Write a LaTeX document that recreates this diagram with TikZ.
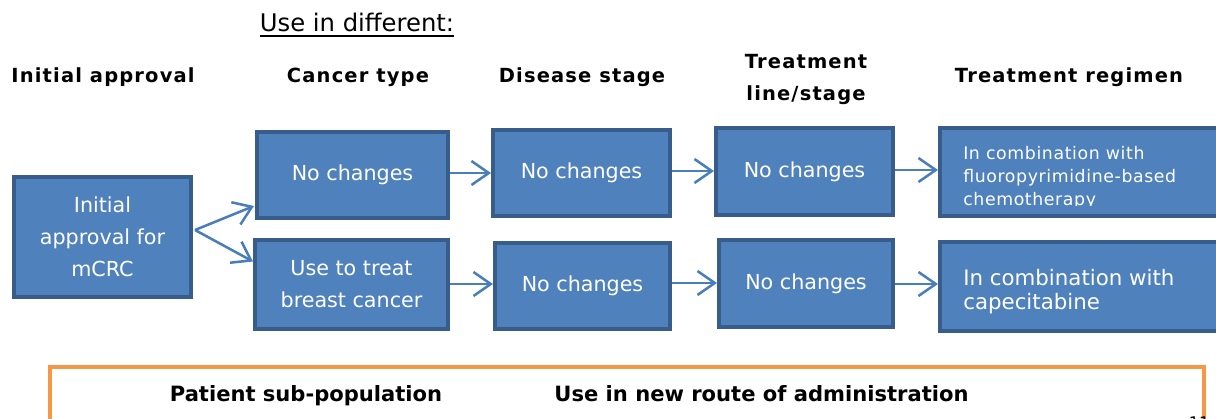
\documentclass[tikz,border=0pt]{standalone}
\usepackage{fontspec}
\setmainfont{DejaVu Sans}
\usetikzlibrary{arrows.meta,calc}
\definecolor{boxfill}{HTML}{4F81BD}
\definecolor{boxline}{HTML}{385D8A}
\definecolor{arrcol}{HTML}{4A7EBB}
\definecolor{orng}{HTML}{F79646}
\begin{document}
\begin{tikzpicture}[x=0.75pt,y=-0.75pt,
  bx/.style={draw=boxline, fill=boxfill, line width=3pt, inner sep=0pt, outer sep=1.5pt,
    text=white, align=center, font=\fontsize{15.5}{24}\selectfont},
  hd/.style={inner sep=0pt, anchor=base, font=\bfseries\fontsize{14.6}{17}\selectfont\addfontfeatures{LetterSpace=6}},
  bt/.style={inner sep=0pt, anchor=base, font=\bfseries\fontsize{15.8}{18}\selectfont},
  ar/.style={draw=arrcol, line width=1.9pt, -{Straight Barb[length=13pt,width=18pt,line width=1.9pt]}}]
\useasboundingbox (0,0) rectangle (1216,418);

% headers
\node[inner sep=0pt, anchor=base, font=\fontsize{18.2}{20}\selectfont] (ud) at (357,31) {Use in different:};
\draw[line width=1.5pt] ([yshift=-4pt]ud.base west) -- ([yshift=-4pt]ud.base east);
\node[hd] (h0) at (103,82.5) {Initial approval};
\node[hd] (h1) at (358,82.5) {Cancer type};
\node[hd] (h2) at (582,82.5) {Disease stage};
\node[hd] (h3a) at (806,68) {Treatment};
\node[hd] (h3b) at (806,100) {line/stage};
\node[hd] (h4) at (1069,82.5) {Treatment regimen};

% boxes
\node[bx, minimum width=177*0.75pt, minimum height=120*0.75pt] (b0) at (102.5,237) {Initial\\approval for\\mCRC};
\node[bx, minimum width=191*0.75pt, minimum height=86*0.75pt] (r1a) at (352.5,175) {No changes};
\node[bx, minimum width=177*0.75pt, minimum height=86*0.75pt] (r1b) at (581.5,173) {No changes};
\node[bx, minimum width=177*0.75pt, minimum height=87*0.75pt] (r1c) at (804.5,171.5) {No changes};
\node[bx, minimum width=283*0.75pt, minimum height=88*0.75pt] (r1d) at (1081.5,172) {};
\node[bx, minimum width=193*0.75pt, minimum height=89*0.75pt] (r2a) at (351.5,284.5) {Use to treat\\breast cancer};
\node[bx, minimum width=175*0.75pt, minimum height=86*0.75pt] (r2b) at (582.5,286) {No changes};
\node[bx, minimum width=174*0.75pt, minimum height=87*0.75pt] (r2c) at (806,283.5) {No changes};
\node[bx, minimum width=283*0.75pt, minimum height=89*0.75pt] (r2d) at (1081.5,286.5) {};

\begin{scope}
\clip (940,128) rectangle (1216,205);
\node[inner sep=0pt, anchor=north west, align=left, text=white,
  font=\fontsize{13}{17.2}\selectfont\addfontfeatures{LetterSpace=3.5}] (t1d) at (963,146.5)
  {In combination with\\fluoropyrimidine-based\\chemotherapy};
\end{scope}
\node[inner sep=0pt, anchor=north west, align=left, text=white,
  font=\fontsize{16}{18}\selectfont] (t2d) at (963,269)
  {In combination with\\capecitabine};

% arrows
\draw[ar] ($(b0.east)+(2,-7)$) -- ($(r1a.west)+(-1,31)$);
\draw[ar] ($(b0.east)+(2,-7)$) -- ($(r2a.west)+(0,-23)$);
\draw[ar] (r1a.east |- 0,173) -- (r1b.west |- 0,173);
\draw[ar] (r1b.east |- 0,171) -- (r1c.west |- 0,171);
\draw[ar] (r1c.east |- 0,170) -- (r1d.west |- 0,170);
\draw[ar] (r2a.east |- 0,284) -- (r2b.west |- 0,284);
\draw[ar] (r2b.east |- 0,283) -- (r2c.west |- 0,283);
\draw[ar] (r2c.east |- 0,284) -- (r2d.west |- 0,284);

% orange box
\draw[draw=orng, line width=3pt] (50,440) -- (50,367) -- (1204,367) -- (1204,440);
\node[bt] (p1) at (306,401.5) {Patient sub-population};
\node[bt] (p2) at (761.5,401.5) {Use in new route of administration};
\node[inner sep=0pt, anchor=base, font=\fontsize{12}{14}\selectfont] (pg) at (1199,428) {11};
\end{tikzpicture}
\end{document}
